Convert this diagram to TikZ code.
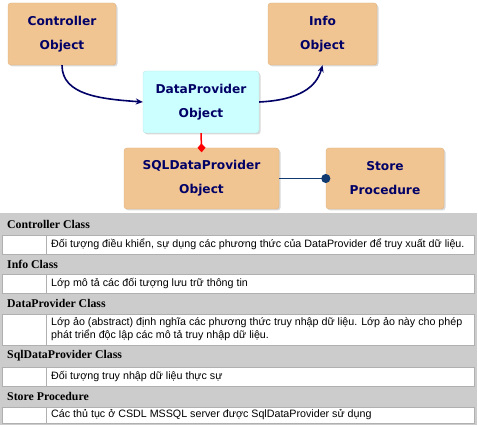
\documentclass[tikz,border=0pt]{standalone}
\usepackage{fontspec}
\usetikzlibrary{arrows.meta,shadows}
\newfontfamily\boxfont{DejaVu Sans}
\newfontfamily\headfont{Liberation Serif}
\newfontfamily\cellfont{Liberation Sans}
\definecolor{objpeach}{RGB}{241,197,146}
\definecolor{objedge}{RGB}{224,178,126}
\definecolor{objcyan}{RGB}{204,255,255}
\definecolor{objnavy}{RGB}{0,0,102}
\definecolor{linkblue}{RGB}{16,58,112}
\definecolor{rowgray}{RGB}{204,204,204}
\definecolor{rowline}{RGB}{176,176,176}

\begin{document}
\begin{tikzpicture}[x=1pt,y=-1pt,
    objbox/.style={draw=objedge, fill=objpeach, rounded corners=3pt,
      drop shadow={shadow xshift=1.5pt,shadow yshift=-1.5pt,opacity=0.3},
      align=center, text=objnavy, inner sep=0pt,
      font=\boxfont\bfseries\fontsize{12.2}{24}\selectfont},
    calllink/.style={draw=objnavy, line width=1.6pt, -{Stealth[length=7pt,width=6pt]}},
    headtext/.style={anchor=west, inner sep=0pt, font=\headfont\bfseries\fontsize{11.8}{13}\selectfont},
    celltext/.style={anchor=west, inner sep=0pt, align=left, font=\cellfont\fontsize{10.7}{13}\selectfont}]
  \useasboundingbox (0,0) rectangle (478,427);

  % objects
  \node[objbox, minimum width=108pt, minimum height=62pt] (ctrl) at (62,34) {Controller\\Object};
  \node[objbox, minimum width=109pt, minimum height=62pt] (info) at (322.5,34) {Info\\Object};
  \node[objbox, fill=objcyan, draw=objcyan!80!gray, minimum width=116pt, minimum height=62pt]
    (dp) at (201,102) {DataProvider\\Object};
  \node[objbox, minimum width=155pt, minimum height=61pt] (sql) at (201.5,178.5) {SQLDataProvider\\Object};
  \node[objbox, minimum width=118pt, minimum height=61pt] (store) at (385,178.5) {Store\\Procedure};

  % links
  \draw[calllink] (ctrl.south) .. controls +(0,30) and +(-42,-3) .. (dp.west);
  \draw[calllink] (dp.east) .. controls +(40,-2) and +(-6,22) .. (info.south);
  \draw[red, line width=1.5pt, -{Diamond[length=9pt,width=8pt]}, shorten >=-4.5pt] (dp.south) -- (sql.north);
  \draw[linkblue, line width=1.8pt, -{Circle[length=9pt]}, shorten >=-4.5pt] (sql.east) -- (store.west);

  % table
  \fill[rowgray] (0,213) rectangle (477,425);
  \foreach \head/\body/\ya/\yb/\yc [count=\i] in {
      {Controller Class}/{Đối tượng điều khiển, sự dụng các phương thức của DataProvider để truy xuất dữ liệu.}/214/235/254,
      {Info Class}/{Lớp mô tả các đối tượng lưu trữ thông tin}/254/274/293,
      {DataProvider Class}/{Lớp ảo (abstract) định nghĩa các phương thức truy nhập dữ liệu. Lớp ảo này cho phép\\phát triển độc lập các mô tả truy nhập dữ liệu.}/293/314/345,
      {SqlDataProvider Class}/{Đối tượng truy nhập dữ liệu thực sự}/345/367/386,
      {Store Procedure}/{Các thủ tục ở CSDL MSSQL server được SqlDataProvider sử dụng}/386/407/423}
  {
    \draw[rowline, fill=white] (2,\yb) rectangle (474,\yc);
    \draw[rowline] (46,\yb) -- (46,\yc);
    \node[headtext] (head\i) at (7,{(\ya+\yb)/2}) {\head};
    \node[celltext] (cell\i) at (51,{(\yb+\yc)/2}) {\body};
  }
\end{tikzpicture}
\end{document}
